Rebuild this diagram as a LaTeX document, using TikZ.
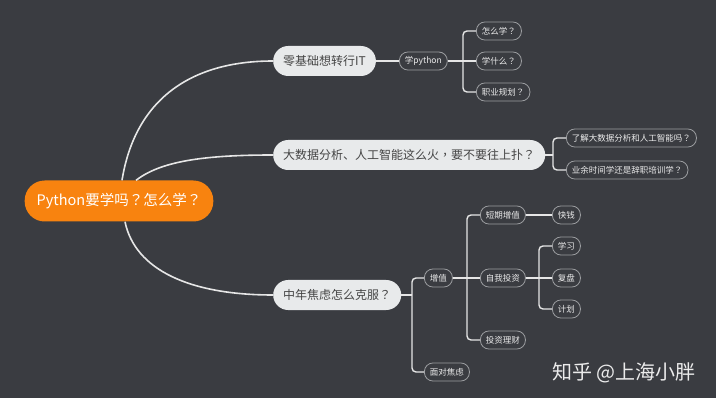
\documentclass[tikz,border=0pt]{standalone}
\usepackage{fontspec}
\setmainfont{Noto Sans CJK SC}
\newfontfamily\tcfont{Noto Sans CJK TC}
\newcommand\myqm{{\tcfont ？}}
\newcommand\mycomma{{\tcfont ，}}
\definecolor{bgdark}{HTML}{3A3C41}
\definecolor{rootorange}{HTML}{F8830F}
\definecolor{lightfill}{HTML}{E8EAEB}
\definecolor{darktext}{HTML}{454545}
\definecolor{smallborder}{HTML}{9C9EA1}
\definecolor{linecol}{HTML}{E6E6E6}
\tikzset{
  rootbox/.style={fill=rootorange, text=white, rounded corners=20pt, minimum height=41pt, inner xsep=12pt, inner ysep=0pt, font=\fontsize{14.5}{16}\selectfont},
  mainbox/.style={fill=lightfill, text=darktext, rounded corners=15pt, minimum height=30pt, inner xsep=10pt, inner ysep=0pt, anchor=west, font=\fontsize{12}{14}\selectfont},
  smallbox/.style={draw=smallborder, line width=0.8pt, fill=bgdark, text=white!92!black, rounded corners=8.5pt, minimum height=18pt, inner xsep=5.5pt, inner ysep=0pt, anchor=west, font=\fontsize{8.5}{10}\selectfont},
  curveline/.style={draw=linecol, line width=1.6pt},
  branchline/.style={draw=linecol, line width=1.4pt, rounded corners=4pt},
}
\begin{document}
\begin{tikzpicture}[x=1pt,y=-1pt]
\fill[white] (0,0) rectangle (720,403);
\fill[bgdark] (0,0) rectangle (716,398);
\useasboundingbox (0,0) rectangle (720,403);

% root
\node[rootbox] (root) at (119,201) {Python要学吗\myqm 怎么学\myqm};

% main topics
\node[mainbox] (A) at (273,61) {零基础想转行IT};
\node[mainbox] (B) at (273,155) {大数据分析、人工智能这么火\mycomma 要不要往上扑\myqm};
\node[mainbox] (C) at (273,295) {中年焦虑怎么克服\myqm};

% A subtree
\node[smallbox] (py) at (399,61) {学python};
\node[smallbox] (a1) at (476,31) {怎么学\myqm};
\node[smallbox] (a2) at (476,61) {学什么\myqm};
\node[smallbox] (a3) at (476,92) {职业规划\myqm};

% B subtree
\node[smallbox] (b1) at (566,138) {了解大数据分析和人工智能吗\myqm};
\node[smallbox] (b2) at (566,170) {业余时间学还是辞职培训学\myqm};

% C subtree
\node[smallbox] (zz) at (424,278) {增值};
\node[smallbox] (mj) at (424,372) {面对焦虑};
\node[smallbox] (dq) at (480,215) {短期增值};
\node[smallbox] (zw) at (480,278) {自我投资};
\node[smallbox] (tz) at (480,340) {投资理财};
\node[smallbox] (kq) at (552,215) {快钱};
\node[smallbox] (xx) at (552,246) {学习};
\node[smallbox] (fp) at (552,278) {复盘};
\node[smallbox] (jh) at (552,309) {计划};

% junctions
\coordinate (j1) at (463,61);
\coordinate (j2) at (553,155);
\coordinate (j3) at (412,295);
\coordinate (j4) at (467,278);
\coordinate (j5) at (539,278);

% root curves
\draw[curveline] ([xshift=3pt]root.north) .. controls (135,100) and (190,61) .. (A.west);
\draw[curveline] ([xshift=17pt]root.north) .. controls (160,162) and (200,155) .. (B.west);
\draw[curveline] ([xshift=6pt]root.south) .. controls (135,270) and (190,295) .. (C.west);

% A branches
\draw[branchline] (A.east) -- (py.west);
\draw[branchline] (py.east) -- (a2.west);
\draw[branchline] (j1) |- (a1.west);
\draw[branchline] (j1) |- (a3.west);

% B branches
\draw[branchline] (B.east) -- (j2);
\draw[branchline] (j2) |- (b1.west);
\draw[branchline] (j2) |- (b2.west);

% C branches
\draw[branchline] (C.east) -- (j3);
\draw[branchline] (j3) |- (zz.west);
\draw[branchline] (j3) |- (mj.west);
\draw[branchline] (zz.east) -- (zw.west);
\draw[branchline] (j4) |- (dq.west);
\draw[branchline] (j4) |- (tz.west);
\draw[branchline] (dq.east) -- (kq.west);
\draw[branchline] (zw.east) -- (fp.west);
\draw[branchline] (j5) |- (xx.west);
\draw[branchline] (j5) |- (jh.west);

% watermark
\node[text=white!92!black, font=\fontsize{20}{22}\selectfont, anchor=center] (wm) at (624,373) {知乎 @上海小胖};
\end{tikzpicture}
\end{document}
